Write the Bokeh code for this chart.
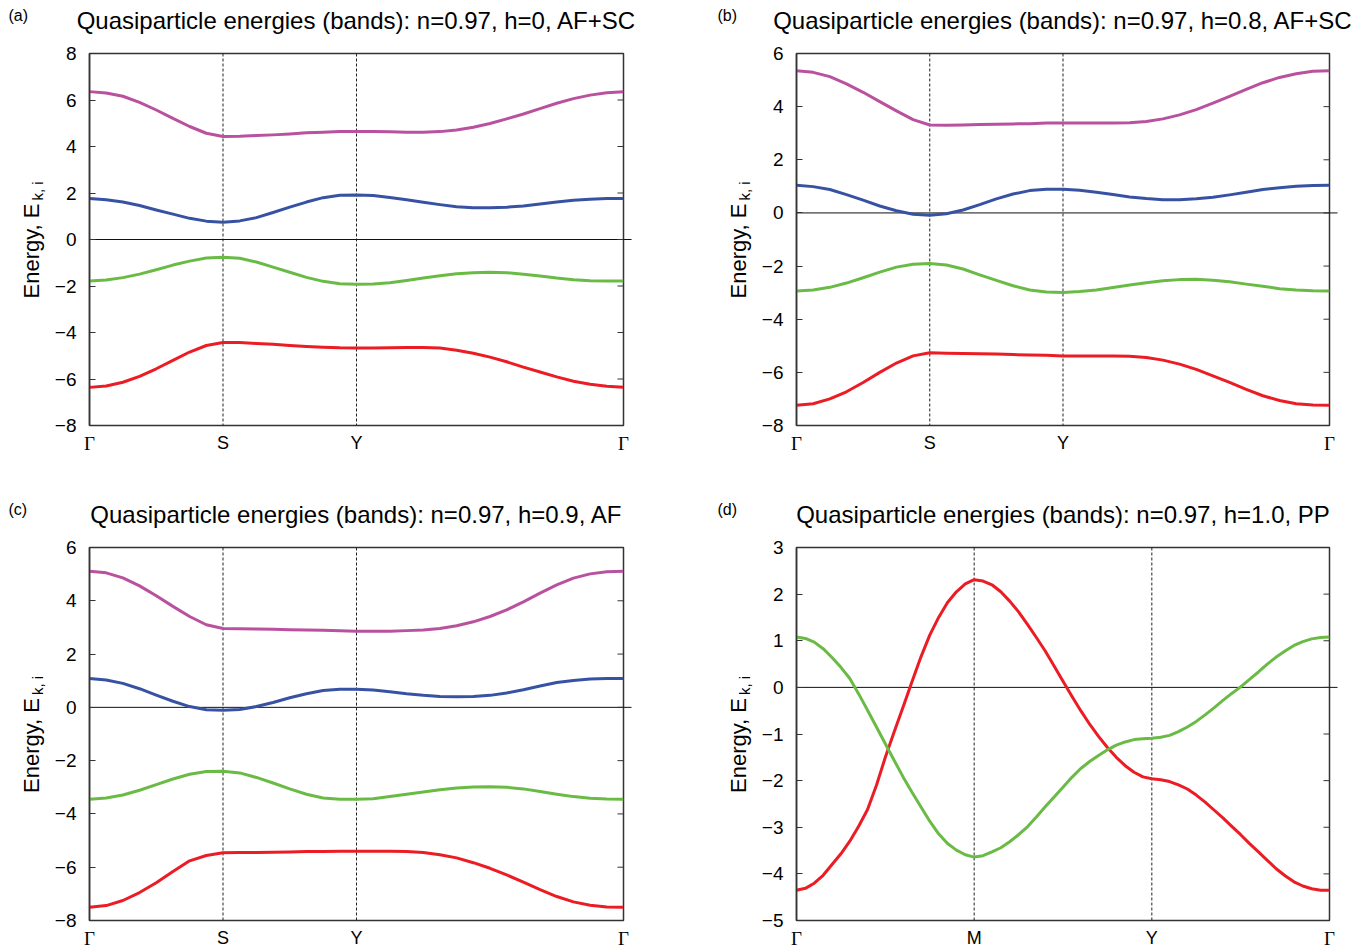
import math
from bokeh.plotting import figure
from bokeh.models import Range1d, Span, FixedTicker
from bokeh.core.properties import value
from bokeh.layouts import column, row
from bokeh.embed import file_html
from bokeh.resources import INLINE

# ---------------- data ----------------
K4 = [0.0, 0.125, 0.25, 0.375, 0.5, 0.625, 0.75, 0.875, 1.0, 1.125, 1.25, 1.375, 1.5,
      1.625, 1.75, 1.875, 2.0, 2.125, 2.25, 2.375, 2.5, 2.625, 2.75, 2.875, 3.0,
      3.125, 3.25, 3.375, 3.5, 3.625, 3.75, 3.875, 4.0]
K3 = [0.0, 0.05, 0.1, 0.15, 0.2, 0.25, 0.3, 0.35, 0.4, 0.45, 0.5, 0.55, 0.6, 0.65, 0.7, 0.75,
      0.8, 0.85, 0.9, 0.95, 1.0, 1.05, 1.1, 1.15, 1.2, 1.25, 1.3, 1.35, 1.4, 1.45, 1.5, 1.55,
      1.6, 1.65, 1.7, 1.75, 1.8, 1.85, 1.9, 1.95, 2.0, 2.05, 2.1, 2.15, 2.2, 2.25, 2.3, 2.35,
      2.4, 2.45, 2.5, 2.55, 2.6, 2.65, 2.7, 2.75, 2.8, 2.85, 2.9, 2.95, 3.0]

KPOS_GSYG = [0.0, 1.0, 2.0, 4.0]
KLAB_GSYG = ["Γ", "S", "Y", "Γ"]
KPOS_GMYG = [0.0, 1.0, 2.0, 3.0]
KLAB_GMYG = ["Γ", "M", "Y", "Γ"]

# panel (a)  n=0.97, h=0, AF+SC
A_mag = [6.36, 6.30, 6.16, 5.90, 5.57, 5.21, 4.86, 4.57, 4.43, 4.44, 4.47, 4.50, 4.54, 4.59, 4.61, 4.64, 4.64,
         4.64, 4.63, 4.61, 4.61, 4.64, 4.71, 4.83, 4.99, 5.19, 5.40, 5.63, 5.86, 6.06, 6.21, 6.31, 6.36]
A_blue = [1.76, 1.71, 1.61, 1.46, 1.27, 1.09, 0.91, 0.79, 0.74, 0.80, 0.94, 1.16, 1.39, 1.61, 1.80, 1.90, 1.91,
          1.89, 1.81, 1.71, 1.60, 1.50, 1.41, 1.37, 1.37, 1.39, 1.44, 1.53, 1.61, 1.69, 1.73, 1.76, 1.76]
A_green = [-1.79, -1.74, -1.64, -1.49, -1.30, -1.10, -0.93, -0.80, -0.76, -0.81, -0.97, -1.19, -1.41, -1.63, -1.80,
           -1.90, -1.93, -1.91, -1.86, -1.76, -1.66, -1.56, -1.47, -1.43, -1.41, -1.43, -1.49, -1.57, -1.66, -1.73,
           -1.77, -1.79, -1.79]
A_red = [-6.36, -6.30, -6.14, -5.89, -5.56, -5.20, -4.84, -4.56, -4.43, -4.43, -4.47, -4.51, -4.56, -4.60, -4.63,
         -4.66, -4.67, -4.67, -4.66, -4.64, -4.64, -4.67, -4.76, -4.89, -5.06, -5.26, -5.49, -5.70, -5.91, -6.10,
         -6.23, -6.31, -6.36]

# panel (b)  n=0.97, h=0.8, AF+SC
B_mag = [5.35, 5.29, 5.13, 4.86, 4.54, 4.19, 3.84, 3.51, 3.31, 3.30, 3.31, 3.33, 3.34, 3.35, 3.36, 3.38, 3.38,
         3.38, 3.38, 3.38, 3.39, 3.44, 3.54, 3.69, 3.89, 4.13, 4.39, 4.65, 4.90, 5.10, 5.24, 5.33, 5.35]
B_blue = [1.04, 0.99, 0.88, 0.69, 0.48, 0.26, 0.08, -0.05, -0.09, -0.03, 0.11, 0.31, 0.53, 0.71, 0.84, 0.89, 0.89,
          0.85, 0.78, 0.69, 0.60, 0.54, 0.50, 0.50, 0.53, 0.59, 0.68, 0.78, 0.88, 0.95, 1.00, 1.03, 1.04]
B_green = [-2.94, -2.90, -2.80, -2.64, -2.44, -2.23, -2.04, -1.93, -1.90, -1.96, -2.11, -2.33, -2.54, -2.74, -2.90,
           -2.98, -2.99, -2.96, -2.90, -2.81, -2.71, -2.63, -2.55, -2.51, -2.50, -2.53, -2.59, -2.68, -2.76, -2.85,
           -2.90, -2.93, -2.94]
B_red = [-7.24, -7.18, -7.00, -6.73, -6.38, -6.00, -5.65, -5.38, -5.26, -5.28, -5.29, -5.30, -5.31, -5.33, -5.35,
         -5.36, -5.38, -5.38, -5.38, -5.38, -5.39, -5.44, -5.54, -5.69, -5.89, -6.13, -6.38, -6.64, -6.88, -7.06,
         -7.18, -7.23, -7.24]

# panel (c)  n=0.97, h=0.9, AF
C_mag = [5.11, 5.05, 4.86, 4.56, 4.19, 3.79, 3.41, 3.10, 2.96, 2.95, 2.94, 2.93, 2.91, 2.90, 2.89, 2.88, 2.86,
         2.86, 2.86, 2.88, 2.90, 2.96, 3.06, 3.21, 3.41, 3.66, 3.96, 4.29, 4.60, 4.85, 5.01, 5.09, 5.11]
C_blue = [1.08, 1.03, 0.90, 0.70, 0.46, 0.23, 0.03, -0.09, -0.11, -0.08, 0.03, 0.18, 0.36, 0.51, 0.63, 0.68, 0.68,
          0.65, 0.59, 0.51, 0.45, 0.41, 0.40, 0.41, 0.45, 0.54, 0.66, 0.80, 0.93, 1.01, 1.06, 1.08, 1.08]
C_green = [-3.45, -3.40, -3.29, -3.11, -2.90, -2.69, -2.51, -2.41, -2.40, -2.46, -2.63, -2.84, -3.06, -3.26, -3.40,
           -3.45, -3.45, -3.43, -3.35, -3.26, -3.18, -3.09, -3.03, -2.99, -2.98, -3.00, -3.06, -3.16, -3.26, -3.35,
           -3.41, -3.44, -3.45]
C_red = [-7.50, -7.44, -7.25, -6.95, -6.58, -6.16, -5.76, -5.56, -5.46, -5.45, -5.45, -5.44, -5.43, -5.41, -5.41,
         -5.40, -5.40, -5.40, -5.40, -5.41, -5.45, -5.53, -5.65, -5.83, -6.04, -6.29, -6.56, -6.84, -7.10, -7.30,
         -7.43, -7.49, -7.50]

# panel (d)  n=0.97, h=1.0, PP
D_red = [-4.35, -4.31, -4.20, -4.03, -3.80, -3.57, -3.30, -2.98, -2.62, -2.10, -1.50, -0.95, -0.42, 0.12, 0.65,
         1.12, 1.50, 1.82, 2.05, 2.22, 2.31, 2.28, 2.20, 2.05, 1.85, 1.62, 1.35, 1.07, 0.78, 0.46, 0.13, -0.19,
         -0.50, -0.79, -1.05, -1.29, -1.50, -1.68, -1.82, -1.92, -1.96, -1.98, -2.02, -2.09, -2.18, -2.31, -2.46,
         -2.63, -2.80, -2.98, -3.16, -3.35, -3.53, -3.71, -3.89, -4.04, -4.17, -4.26, -4.32, -4.35, -4.35]
D_green = [1.08, 1.05, 0.97, 0.83, 0.64, 0.43, 0.19, -0.14, -0.49, -0.85, -1.21, -1.57, -1.92, -2.25, -2.56,
           -2.87, -3.14, -3.35, -3.49, -3.59, -3.64, -3.61, -3.53, -3.44, -3.31, -3.16, -2.99, -2.78, -2.56, -2.35,
           -2.14, -1.93, -1.74, -1.59, -1.46, -1.34, -1.24, -1.17, -1.12, -1.10, -1.09, -1.07, -1.03, -0.95, -0.85,
           -0.73, -0.59, -0.44, -0.28, -0.13, 0.01, 0.17, 0.33, 0.50, 0.65, 0.78, 0.90, 0.98, 1.04, 1.07, 1.08]

YTICKS_A = [-8, -6, -4, -2, 0, 2, 4, 6, 8]
YTICKS_BC = [-8, -6, -4, -2, 0, 2, 4, 6]
YTICKS_D = [-5, -4, -3, -2, -1, 0, 1, 2, 3]

TITLES = [
    "Quasiparticle energies (bands): n=0.97, h=0, AF+SC",
    "Quasiparticle energies (bands): n=0.97, h=0.8, AF+SC",
    "Quasiparticle energies (bands): n=0.97, h=0.9, AF",
    "Quasiparticle energies (bands): n=0.97, h=1.0, PP",
]
TAGS = ["(a)", "(b)", "(c)", "(d)"]

MAGENTA = "#b9519f"
BLUE = "#3852a3"
GREEN = "#6abb45"
RED = "#ec1c24"

SANS = "Liberation Sans"
SERIF = "Liberation Serif"
FRAME = "#333333"


def fmt(t):
    return str(t).replace("-", "\u2212")


def tx(p, x, y, text, dx=0, dy=0, size="16px", font=SANS, align="left",
       baseline="middle", angle=0.0):
    # text glyph drawn at the "guide" level so that it is not clipped to the frame
    p.text(x=[x], y=[y], text=[text], x_offset=dx, y_offset=dy, angle=angle,
           text_font=value(font), text_font_size=value(size), text_color="black",
           text_align=align, text_baseline=baseline, level="guide")


def panel(tag, title, kx, curves, kpos, klab, yticks, W, H, bl, br, bt, bb, tag_dx):
    ylo, yhi = yticks[0], yticks[-1]
    p = figure(width=W, height=H,
               x_range=Range1d(kx[0], kx[-1]), y_range=Range1d(ylo, yhi),
               output_backend="svg", toolbar_location=None,
               x_axis_location=None, y_axis_location="left",
               min_border_left=bl, min_border_right=br,
               min_border_top=bt, min_border_bottom=bb)
    p.xgrid.grid_line_color = None
    p.ygrid.grid_line_color = None
    p.outline_line_color = FRAME
    p.outline_line_width = 1.5
    p.outline_line_alpha = 1.0
    p.background_fill_color = "white"
    p.border_fill_color = "white"

    ax = p.yaxis[0]
    ax.ticker = FixedTicker(ticks=yticks)
    ax.major_label_overrides = {t: fmt(t) for t in yticks}
    ax.major_label_text_font = SANS
    ax.major_label_text_font_size = "19px"
    ax.major_label_text_color = "black"
    ax.major_label_standoff = 13
    ax.major_tick_in = 6
    ax.major_tick_out = 0
    ax.major_tick_line_color = FRAME
    ax.minor_tick_line_color = None
    ax.axis_line_color = FRAME
    ax.axis_line_width = 1.5

    # mirrored inward ticks on the right edge
    p.ray(x=[kx[-1]] * len(yticks), y=yticks, length=6, length_units="screen",
          angle=math.pi, line_color=FRAME, line_width=1)

    for k in kpos[1:-1]:
        p.add_layout(Span(location=k, dimension="height", line_color="#222222",
                          line_width=1, line_dash="3 2", level="underlay"))
    p.add_layout(Span(location=0, dimension="width", line_color="#111111",
                      line_width=1, level="underlay"))
    # zero axis pokes slightly out of the right edge of the box
    p.ray(x=[kx[-1]], y=[0], length=8, length_units="screen", angle=0,
          line_color="#111111", line_width=1, level="guide")

    for ys, col in curves:
        p.line(kx, ys, line_color=col, line_width=3, line_join="round")

    # x tick labels (high-symmetry points)
    for k, lab in zip(kpos, klab):
        tx(p, k, ylo, lab, dy=7, size="19px" if lab == "Γ" else "18px",
           font=SERIF if lab == "Γ" else SANS, align="center", baseline="top")
    # title and panel tag
    tx(p, (kx[0] + kx[-1]) / 2, yhi, title, dy=-33, size="24px", align="center")
    tx(p, kx[0], yhi, tag, dx=-tag_dx, dy=-38, size="16px", align="left")
    # y axis label with subscript
    ymid = (ylo + yhi) / 2
    tx(p, kx[0], ymid, "Energy, E", dx=-58, dy=59, size="22px", align="left",
       baseline="alphabetic", angle=math.pi / 2)
    tx(p, kx[0], ymid, "k, i", dx=-52, dy=-39, size="15px", align="left",
       baseline="alphabetic", angle=math.pi / 2)
    return p


pa = panel(TAGS[0], TITLES[0], K4,
           [(A_mag, MAGENTA), (A_blue, BLUE), (A_green, GREEN), (A_red, RED)],
           KPOS_GSYG, KLAB_GSYG, YTICKS_A, 683, 480, 89, 60, 53, 55, 81)
pb = panel(TAGS[1], TITLES[1], K4,
           [(B_mag, MAGENTA), (B_blue, BLUE), (B_green, GREEN), (B_red, RED)],
           KPOS_GSYG, KLAB_GSYG, YTICKS_BC, 683, 480, 113, 37, 53, 55, 79)
pc = panel(TAGS[2], TITLES[2], K4,
           [(C_mag, MAGENTA), (C_blue, BLUE), (C_green, GREEN), (C_red, RED)],
           KPOS_GSYG, KLAB_GSYG, YTICKS_BC, 683, 468, 89, 60, 67, 28, 81)
pd = panel(TAGS[3], TITLES[3], K3,
           [(D_red, RED), (D_green, GREEN)],
           KPOS_GMYG, KLAB_GMYG, YTICKS_D, 683, 468, 113, 37, 67, 28, 79)

layout = column(row(pa, pb), row(pc, pd))

with open("out.html", "w") as f:
    f.write(file_html(layout, INLINE))
